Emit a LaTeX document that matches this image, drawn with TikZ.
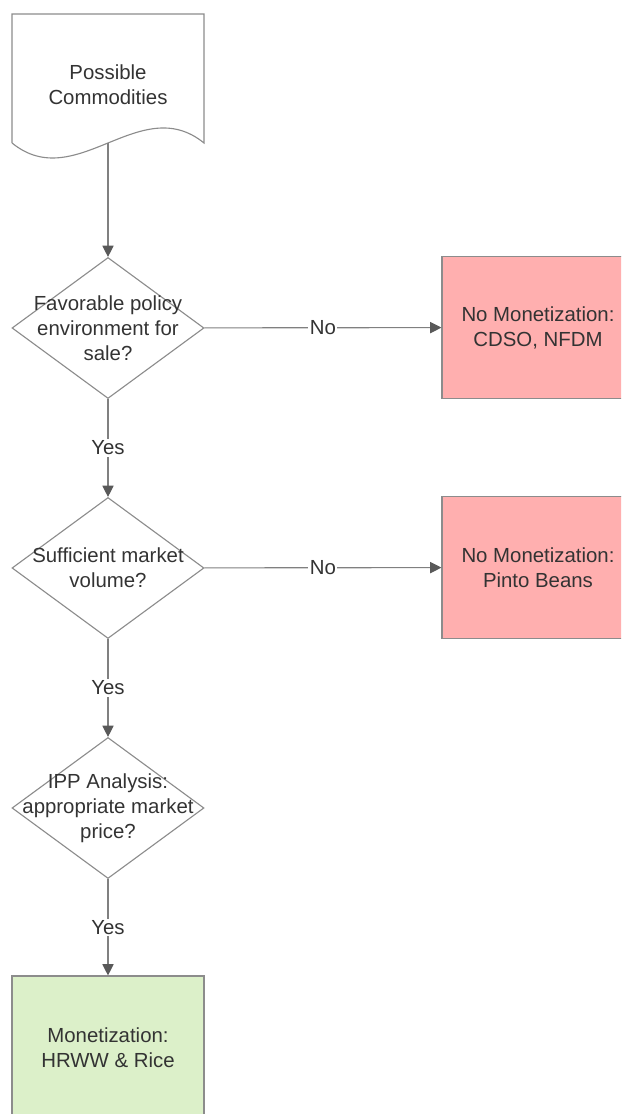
\documentclass[tikz,border=0pt]{standalone}
\usepackage{fontspec}
\setmainfont{Liberation Sans}
\usetikzlibrary{shapes.geometric,arrows.meta,positioning}

\definecolor{nored}{HTML}{FFAFAF}
\definecolor{yesgreen}{HTML}{DCF0C9}

\begin{document}
\begin{tikzpicture}
  \tikzstyle{every node}=[font=\fontsize{14.5}{17.8}\selectfont, text=black!80]
  \tikzstyle{decision}=[diamond, draw=black!45, line width=0.8pt, minimum width=4.8cm, minimum height=3.525cm, inner sep=0pt]
  \tikzstyle{result}=[rectangle, draw=black!45, line width=0.8pt, minimum width=4.8cm, minimum height=3.55cm, align=center]
  \tikzstyle{edge}=[draw=black!50, line width=0.8pt, -{Triangle[length=0.28cm, width=0.28cm, color=black!65]}]
  \tikzstyle{lbl}=[fill=white, inner sep=1pt]

  \clip (0,0) rectangle (15.525,27.85);

  % start: document symbol
  \draw[draw=black!45, line width=0.8pt, fill=white] (0.3,24.275) -- (0.3,27.5) -- (5.1,27.5) -- (5.1,24.275)
    .. controls (3.5,25.575) and (1.9,22.975) .. (0.3,24.275);
  \node[align=center] (doc) at (2.7,25.7375) {Possible\\Commodities};
  \coordinate (docend) at (2.7,24.275);

  % decisions
  \node[decision] (d1) at (2.7,19.65) {};
  \node[align=center] (d1txt) at (d1) {Favorable policy\\environment for\\sale?};
  \node[decision] (d2) at (2.7,13.65) {};
  \node[align=center] (d2txt) at (d2) {Sufficient market\\volume?};
  \node[decision] (d3) at (2.7,7.65) {};
  \node[align=center] (d3txt) at (d3) {IPP Analysis:\\appropriate market\\price?};

  % outcomes
  \node[result, fill=nored] (n1) at (13.45,19.6625) {No Monetization:\\CDSO, NFDM};
  \node[result, fill=nored] (n2) at (13.45,13.6625) {No Monetization:\\Pinto Beans};
  \node[result, fill=yesgreen, minimum height=3.6cm] (mon) at (2.7,1.65) {Monetization:\\HRWW \& Rice};

  \draw[edge] (docend) -- (d1);
  \draw[edge] (d1) -- node[lbl] {No} (n1);
  \draw[edge] (d1) -- node[lbl] {Yes} (d2);
  \draw[edge] (d2) -- node[lbl] {No} (n2);
  \draw[edge] (d2) -- node[lbl] {Yes} (d3);
  \draw[edge] (d3) -- node[lbl] {Yes} (mon);
\end{tikzpicture}
\end{document}
